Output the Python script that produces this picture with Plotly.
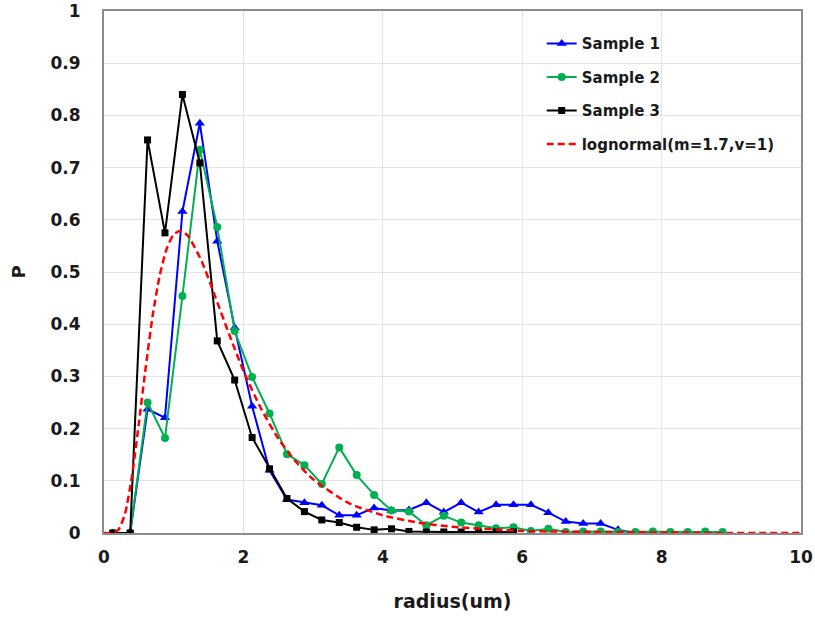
import plotly.graph_objects as go

# ---- data ----
x_s1 = [0.125, 0.375, 0.625, 0.875, 1.125, 1.375, 1.625, 1.875, 2.125, 2.375,
        2.625, 2.875, 3.125, 3.375, 3.625, 3.875, 4.125, 4.375, 4.625, 4.875,
        5.125, 5.375, 5.625, 5.875, 6.125, 6.375, 6.625, 6.875, 7.125, 7.375,
        7.625, 7.875]
y_s1 = [0, 0, 0.237, 0.221, 0.616, 0.785, 0.559, 0.393, 0.243, 0.120,
        0.064, 0.058, 0.053, 0.034, 0.034, 0.048, 0.043, 0.044, 0.058, 0.040,
        0.058, 0.040, 0.054, 0.054, 0.054, 0.039, 0.022, 0.018, 0.018, 0.006,
        0, 0]

x_s2 = [0.125, 0.375, 0.625, 0.875, 1.125, 1.375, 1.625, 1.875, 2.125, 2.375,
        2.625, 2.875, 3.125, 3.375, 3.625, 3.875, 4.125, 4.375, 4.625, 4.875,
        5.125, 5.375, 5.625, 5.875, 6.125, 6.375, 6.625, 6.875, 7.125, 7.375,
        7.625, 7.875, 8.125, 8.375, 8.625, 8.875]
y_s2 = [0, 0, 0.250, 0.182, 0.454, 0.734, 0.586, 0.387, 0.299, 0.229,
        0.151, 0.130, 0.094, 0.164, 0.111, 0.073, 0.043, 0.041, 0.015, 0.033,
        0.020, 0.015, 0.009, 0.011, 0.004, 0.008, 0.002, 0.003, 0.003, 0.002,
        0.002, 0.003, 0.002, 0.002, 0.003, 0.002]

x_s3 = [0.125, 0.375, 0.625, 0.875, 1.125, 1.375, 1.625, 1.875, 2.125, 2.375,
        2.625, 2.875, 3.125, 3.375, 3.625, 3.875, 4.125, 4.375, 4.625, 4.875,
        5.125, 5.375, 5.625, 5.875]
y_s3 = [0, 0, 0.753, 0.575, 0.840, 0.709, 0.368, 0.293, 0.183, 0.123,
        0.066, 0.041, 0.025, 0.020, 0.011, 0.006, 0.008, 0.003, 0.002, 0.002,
        0.002, 0.002, 0.002, 0.002]

x_ln = [0, 0.1, 0.2, 0.3, 0.4, 0.5, 0.6, 0.7, 0.8, 0.9, 1.0, 1.1, 1.2, 1.4,
        1.6, 1.8, 2.0, 2.25, 2.5, 2.75, 3.0, 3.5, 4.0, 4.5, 5.0, 6.0, 7.0,
        8.0, 9.0, 10.0]
y_ln = [0, 0.0, 0.005, 0.036, 0.108, 0.210, 0.319, 0.418, 0.494, 0.545,
        0.572, 0.579, 0.570, 0.521, 0.451, 0.379, 0.311, 0.239, 0.181, 0.137,
        0.103, 0.058, 0.034, 0.020, 0.012, 0.004, 0.002, 0.001, 0.0, 0.0]

names = ["Sample 1", "Sample 2", "Sample 3", "lognormal(m=1.7,v=1)"]

x_ticks = [0, 2, 4, 6, 8, 10]
y_ticks = [0, 0.1, 0.2, 0.3, 0.4, 0.5, 0.6, 0.7, 0.8, 0.9, 1]
y_ticktext = ["0", "0.1", "0.2", "0.3", "0.4", "0.5", "0.6", "0.7", "0.8", "0.9", "1"]

FONT = "DejaVu Sans"
TXT = "#1a1a1a"

fig = go.Figure()
fig.add_trace(go.Scatter(x=x_s1, y=y_s1, name=names[0], mode="lines+markers",
                         line=dict(color="#0000FF", width=2),
                         marker=dict(symbol="triangle-up", size=9, color="#0000FF"),
                         legendgroup="a"))
fig.add_trace(go.Scatter(x=x_s2, y=y_s2, name=names[1], mode="lines+markers",
                         line=dict(color="#00B050", width=2),
                         marker=dict(symbol="circle", size=8, color="#00B050"),
                         legendgroup="b"))
fig.add_trace(go.Scatter(x=x_s3, y=y_s3, name=names[2], mode="lines+markers",
                         line=dict(color="#000000", width=2),
                         marker=dict(symbol="square", size=7, color="#000000"),
                         legendgroup="c"))
fig.add_trace(go.Scatter(x=x_ln, y=y_ln, name=names[3], mode="lines",
                         line=dict(color="#FF0000", width=2.5, dash="7px,4px",
                                   shape="spline", smoothing=0.6),
                         legendgroup="d"))

fig.update_layout(
    width=815, height=617,
    margin=dict(l=104, r=14, t=11, b=84, autoexpand=False),
    paper_bgcolor="white", plot_bgcolor="white",
    font=dict(family=FONT, color=TXT),
    showlegend=True,
    legend=dict(x=0.628, y=0.969, xanchor="left", yanchor="top",
                bgcolor="rgba(255,255,255,0)", borderwidth=0,
                font=dict(family=FONT, size=15, color=TXT, weight="bold"),
                traceorder="grouped", tracegroupgap=11),
    xaxis=dict(range=[0, 10], tickvals=x_ticks, automargin=False,
               ticklabeloverflow="allow",
               showgrid=True, gridcolor="#e3e3e3", gridwidth=1,
               showline=True, mirror=True, linecolor="#8c8c8c", linewidth=2,
               zeroline=False, ticks="", ticklabelstandoff=8,
               tickfont=dict(family=FONT, size=17, color=TXT, weight="bold"),
               title=dict(text="radius(um)", standoff=28,
                          font=dict(family=FONT, size=19, color=TXT, weight="bold"))),
    yaxis=dict(range=[0, 1], tickvals=y_ticks, ticktext=y_ticktext, automargin=False,
               ticklabeloverflow="allow",
               showgrid=True, gridcolor="#e3e3e3", gridwidth=1,
               showline=True, mirror=True, linecolor="#8c8c8c", linewidth=2,
               zeroline=False, ticks="", ticklabelstandoff=18,
               tickfont=dict(family=FONT, size=17, color=TXT, weight="bold"),
               title=dict(text="P", standoff=20,
                          font=dict(family=FONT, size=18, color=TXT, weight="bold"))),
)

fig.write_html("out.html", config={"displayModeBar": False},
               post_script="document.body.style.margin='0';document.body.style.overflow='hidden';")
